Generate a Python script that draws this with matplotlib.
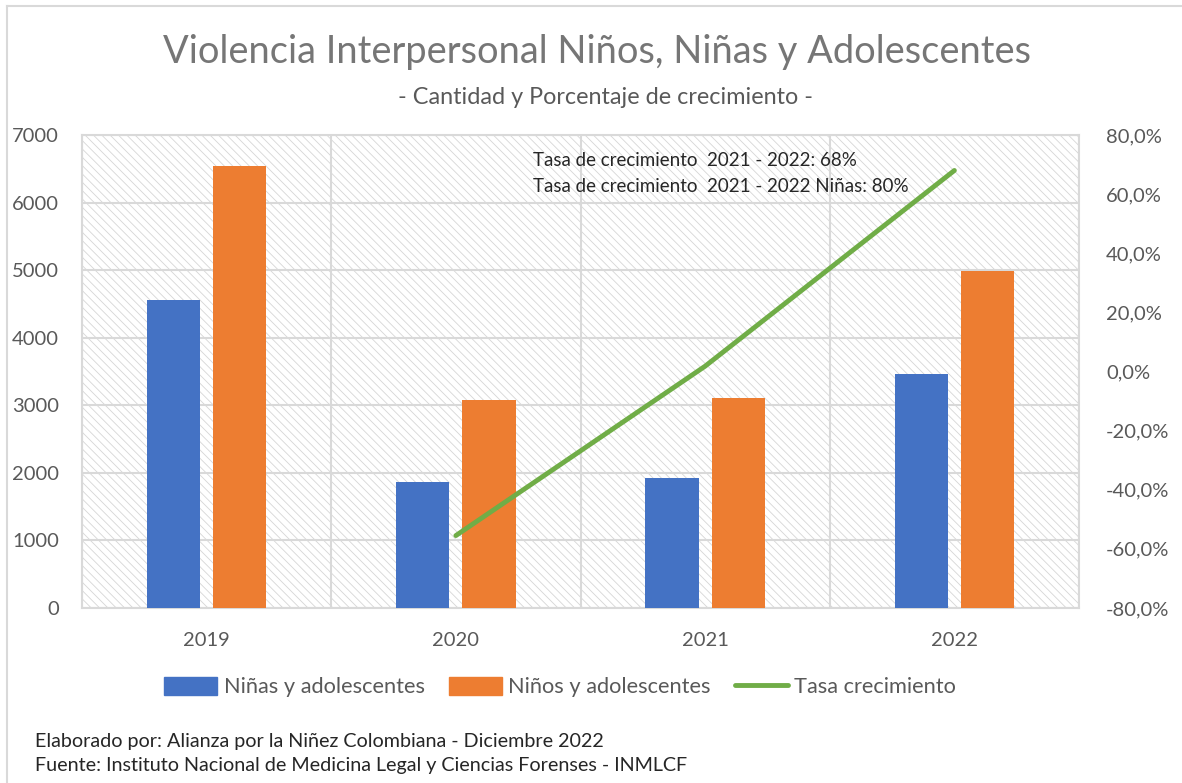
import matplotlib
matplotlib.use("Agg")
import matplotlib.pyplot as plt
from matplotlib.patches import Rectangle
from matplotlib.lines import Line2D
import numpy as np

years = ["2019", "2020", "2021", "2022"]
ninas = [4556, 1864, 1923, 3462]
ninos = [6538, 3077, 3107, 4985]
tasa_years = ["2020", "2021", "2022"]
tasa = [-55.5, 1.8, 68.0]

left_ticks = [0, 1000, 2000, 3000, 4000, 5000, 6000, 7000]
right_ticks = [-80, -60, -40, -20, 0, 20, 40, 60, 80]

title = "Violencia Interpersonal Niños, Niñas y Adolescentes"
subtitle = "- Cantidad y Porcentaje de crecimiento -"
note_lines = ["Tasa de crecimiento  2021 - 2022: 68%",
              "Tasa de crecimiento  2021 - 2022 Niñas: 80%"]
footer = ["Elaborado por: Alianza por la Niñez Colombiana - Diciembre 2022",
          "Fuente: Instituto Nacional de Medicina Legal y Ciencias Forenses - INMLCF"]

plt.rcParams['font.family'] = ['Lato', 'DejaVu Sans']
plt.rcParams['hatch.linewidth'] = 0.6

W, H = 1182, 783
fig = plt.figure(figsize=(W / 100, H / 100), dpi=100)

# chart border (top and left)
fig.add_artist(Line2D([7 / W, 1.0], [1 - 6 / H, 1 - 6 / H], color='#d9d9d9', lw=1.5,
                      transform=fig.transFigure, zorder=0))
fig.add_artist(Line2D([7 / W, 7 / W], [0, 1 - 6 / H], color='#d9d9d9', lw=1.5,
                      transform=fig.transFigure, zorder=0))

x0, x1, ytop, ybot = 82, 1079, 135, 608
ax = fig.add_axes([x0 / W, 1 - ybot / H, (x1 - x0) / W, (ybot - ytop) / H])
ax.set_zorder(1)

bg = Rectangle((0, 0), 1, 1, transform=ax.transAxes, facecolor='white',
               edgecolor='#d6d6d6', hatch='\\\\\\\\', lw=0, zorder=0)
ax.add_patch(bg)

x = np.arange(len(years))
bw = 0.213
off = 0.133
ax.bar(x - off, ninas, width=bw, color='#4472c4', zorder=3, label='Niñas y adolescentes')
ax.bar(x + off, ninos, width=bw, color='#ed7d31', zorder=3, label='Niños y adolescentes')

ax.set_xlim(-0.5, len(years) - 0.5)
ax.set_ylim(0, 7000)
ax.set_yticks(left_ticks)
ax.set_yticklabels([str(v) for v in left_ticks])
ax.set_xticks(x)
ax.set_xticklabels(years)
for b in np.arange(-0.5, len(years), 1.0):
    ax.axvline(b, color='#d9d9d9', lw=1.5, zorder=1)
for v in left_ticks:
    ax.axhline(v, color='#d9d9d9', lw=1.5, zorder=1)
for s in ax.spines.values():
    s.set_color('#d9d9d9')
    s.set_linewidth(1.5)
ax.tick_params(length=0, labelsize=14.5, colors='#595959')
ax.tick_params(axis='y', pad=16.5)
ax.tick_params(axis='x', pad=17)

ax2 = ax.twinx()
xi = [years.index(y) for y in tasa_years]
ax2.plot(xi, tasa, color='#70ad47', lw=3.5, solid_capstyle='round', zorder=5,
         label='Tasa crecimiento')
ax2.set_ylim(-80, 80)
ax2.set_yticks(right_ticks)
ax2.set_yticklabels([f"{v:.1f}%".replace('.', ',') for v in right_ticks])
ax2.tick_params(length=0, labelsize=14.5, colors='#595959', pad=19.5)
for s in ax2.spines.values():
    s.set_visible(False)

# annotation
for i, t in enumerate(note_lines):
    fig.text(533 / W, 1 - (161 + 25 * i) / H, t, fontsize=13.5, color='#262626', va='center', ha='left')

fig.text(0.5 * (163 + 1032) / W, 1 - 52 / H, title, fontsize=27.4, color='#767676', ha='center', va='center')
fig.text(605 / W, 1 - 97 / H, subtitle, fontsize=16.8, color='#595959', ha='center', va='center')

handles = [Rectangle((0, 0), 1, 1, color='#4472c4'), Rectangle((0, 0), 1, 1, color='#ed7d31'),
           Line2D([0], [0], color='#70ad47', lw=3.5, solid_capstyle='round')]
labels = ['Niñas y adolescentes', 'Niños y adolescentes', 'Tasa crecimiento']
leg = fig.legend(handles, labels, loc='center', bbox_to_anchor=(560 / W, 1 - 687 / H), ncol=3,
                 frameon=False, fontsize=15.7, handlelength=2.45, handleheight=0.9, handletextpad=0.28,
                 columnspacing=1.1, labelcolor='#595959')

for i, t in enumerate(footer):
    fig.text(35 / W, 1 - (741 + 25 * i) / H, t, fontsize=14.2, color='#262626', va='center', ha='left')

fig.savefig('out.png', dpi=100, facecolor='white')
